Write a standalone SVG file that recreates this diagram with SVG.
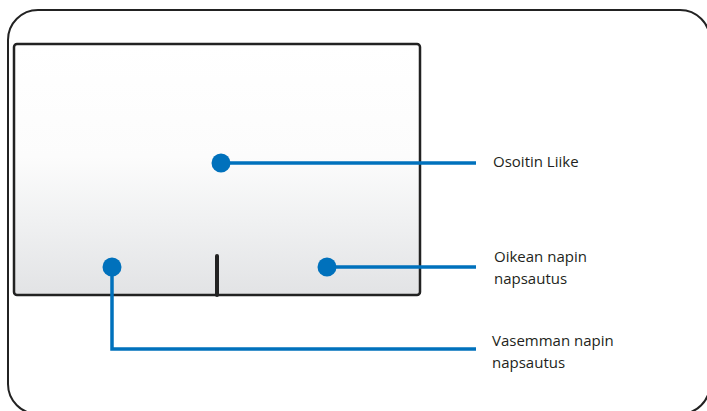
<svg xmlns="http://www.w3.org/2000/svg" width="707" height="411" viewBox="0 0 707 411">
<defs>
<linearGradient id="padFill" x1="0" y1="0" x2="0" y2="1">
<stop offset="0" stop-color="#ffffff"/>
<stop offset="0.45" stop-color="#fcfcfc"/>
<stop offset="0.7" stop-color="#f0f1f2"/>
<stop offset="1" stop-color="#e2e3e5"/>
</linearGradient>
</defs>
<style>
.frame{fill:#ffffff;stroke:#222222;stroke-width:2}
.pad{fill:url(#padFill);stroke:#222222;stroke-width:2.5}
.dot{fill:#0071bc}
.lead{fill:none;stroke:#0071bc;stroke-width:3.5}
.lbl{font-family:"Open Sans","Liberation Sans",sans-serif;font-size:15px;fill:#231f20}
</style>
<rect id="frame" class="frame" x="8" y="10" width="702" height="404" rx="30"/>
<g id="touchpad">
<rect class="pad" x="14" y="44" width="406" height="251" rx="3"/>
<line x1="217" y1="256" x2="217" y2="295" stroke="#222222" stroke-width="4" stroke-linecap="round"/>
</g>
<g id="connectors">
<polyline class="lead" points="221,163 476,163"/>
<polyline class="lead" points="327,267 476,267"/>
<polyline class="lead" points="112,267 112,349 476,349"/>
</g>
<g id="node-pointer">
<circle class="dot" cx="221" cy="163" r="9.5"/>
<text class="lbl" x="493" y="167">Osoitin Liike</text>
</g>
<g id="node-right">
<circle class="dot" cx="327" cy="267" r="9.5"/>
<text class="lbl" x="494" y="262">Oikean napin</text>
<text class="lbl" x="494" y="284">napsautus</text>
</g>
<g id="node-left">
<circle class="dot" cx="112" cy="267" r="9.5"/>
<text class="lbl" x="492" y="346">Vasemman napin</text>
<text class="lbl" x="492" y="368">napsautus</text>
</g>
</svg>
